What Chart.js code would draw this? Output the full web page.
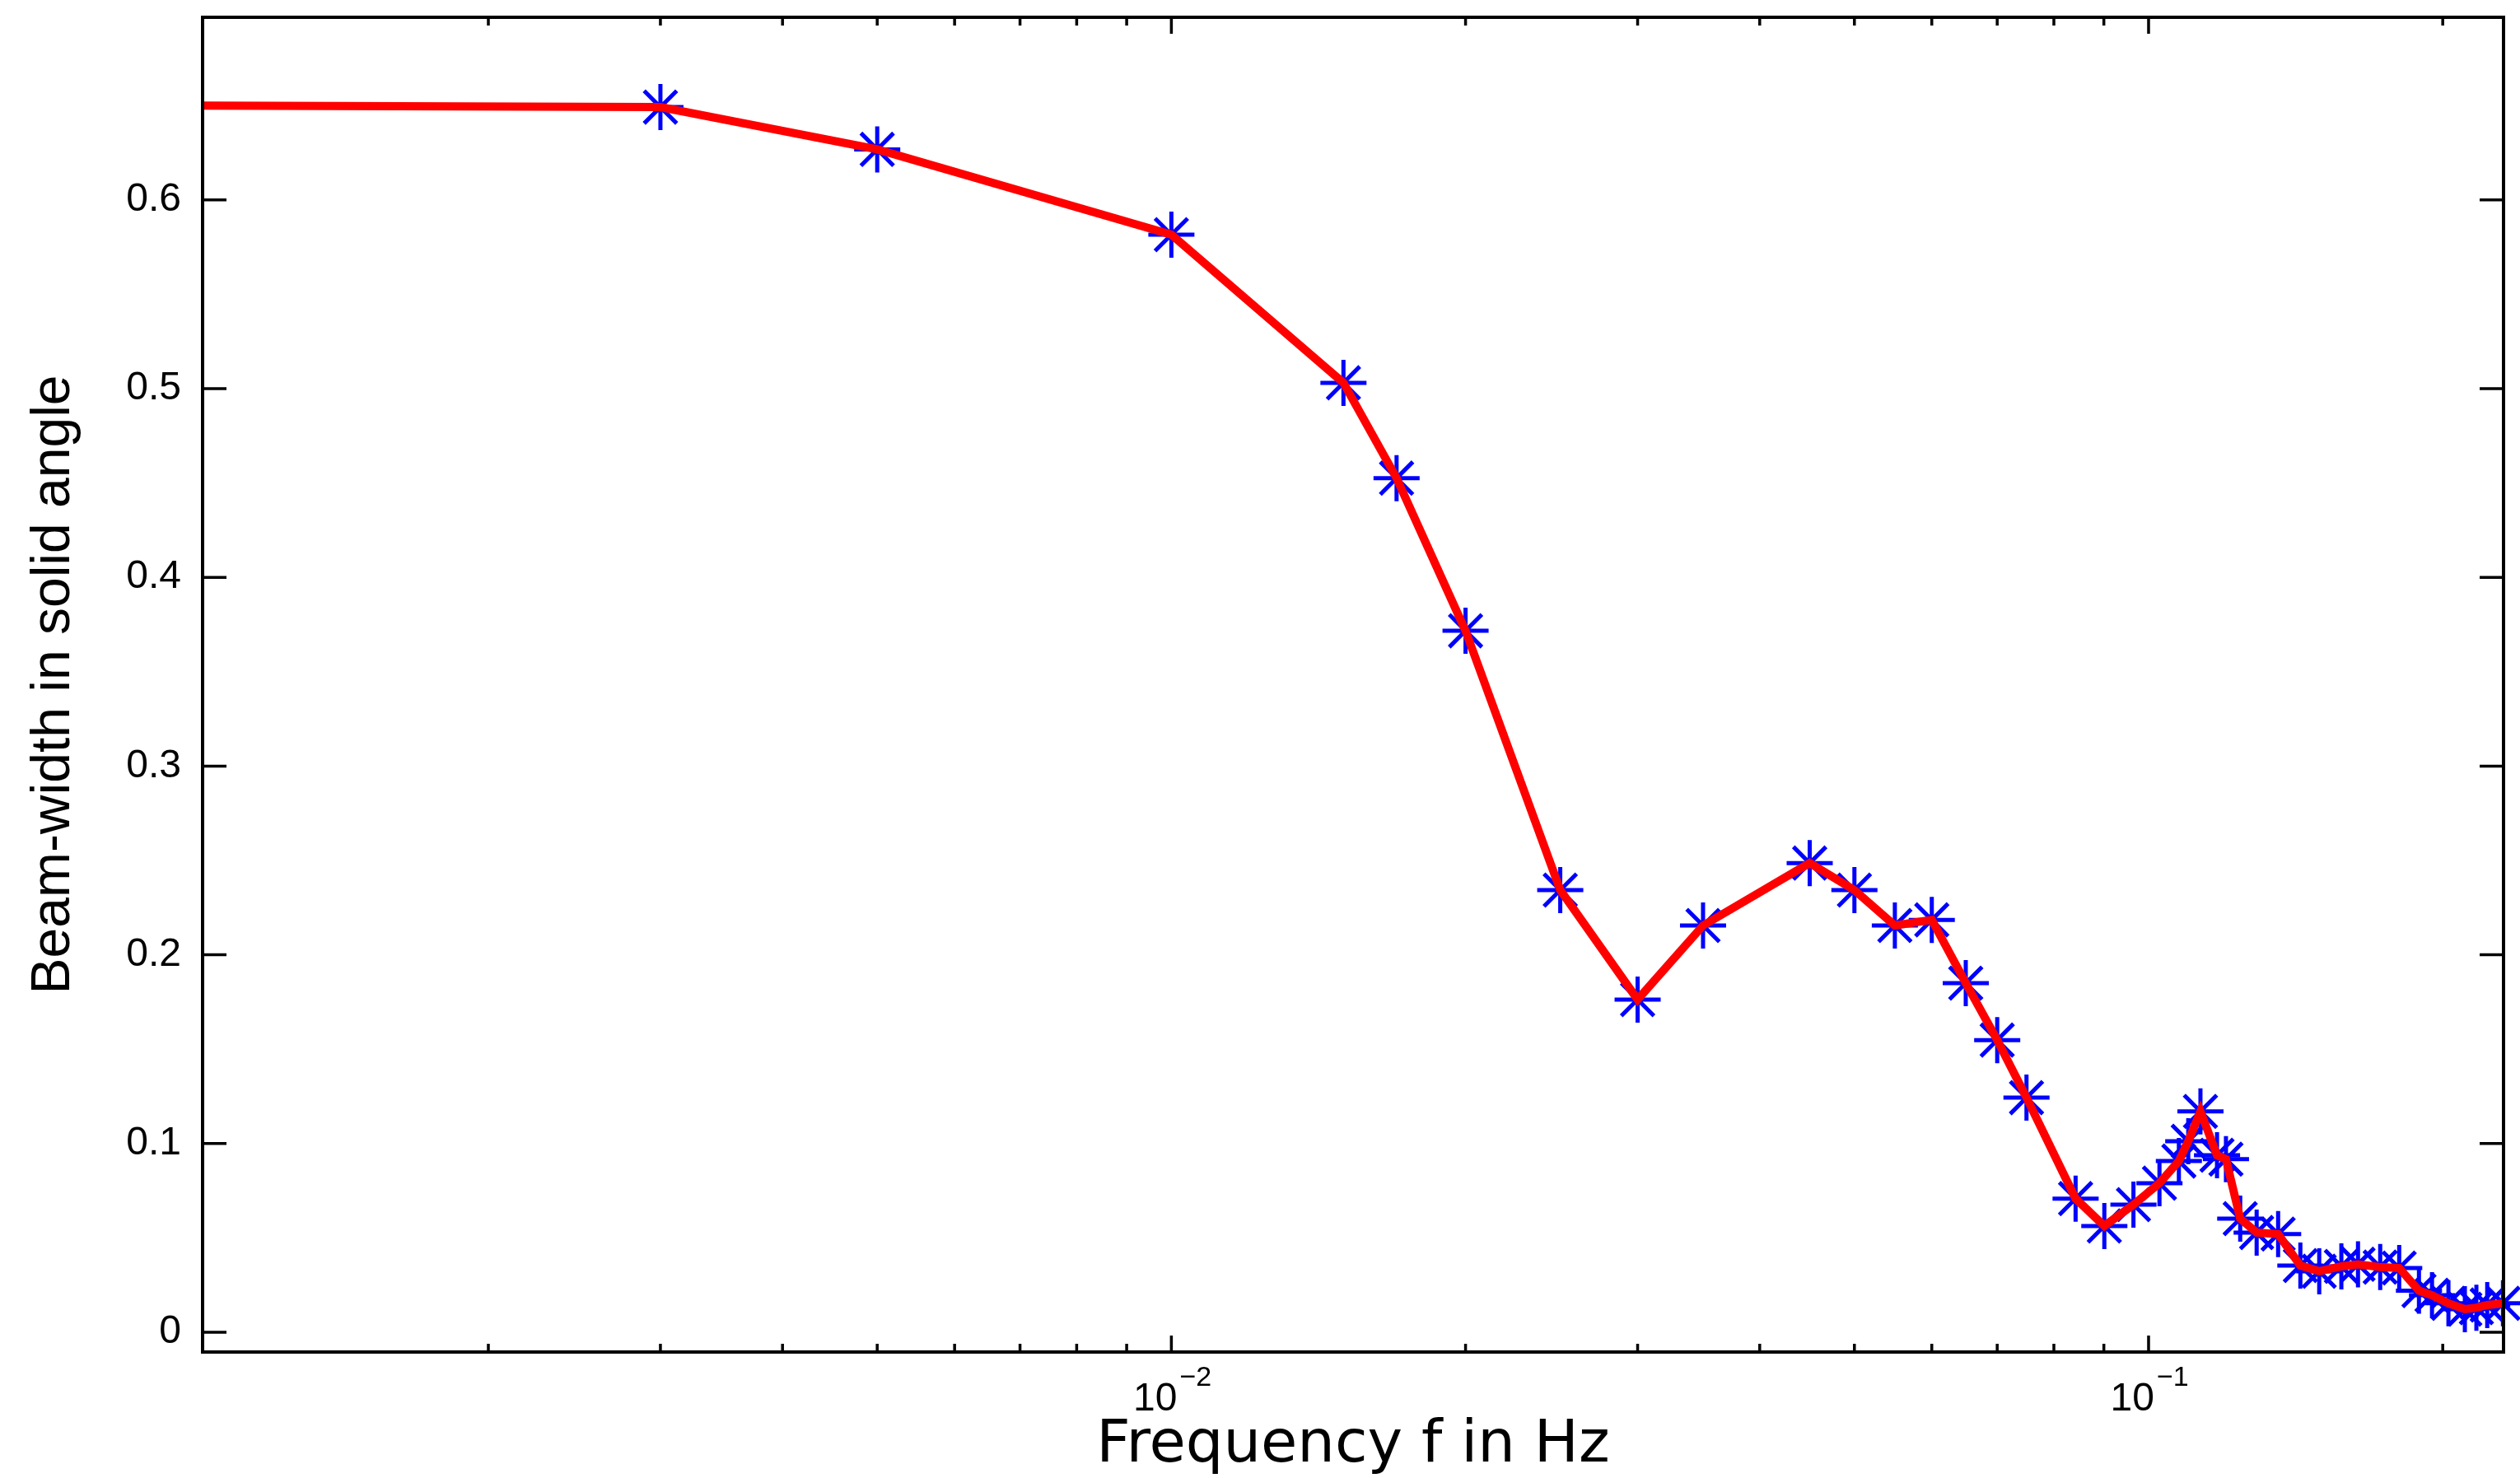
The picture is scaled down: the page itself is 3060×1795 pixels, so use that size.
<!DOCTYPE html>
<html>
<head>
<meta charset="utf-8">
<title>Beam-width vs frequency</title>
<script src="https://cdn.jsdelivr.net/npm/chart.js@4.4.1/dist/chart.umd.min.js"></script>
<style>
  html, body { margin: 0; padding: 0; background: #fff; }
  canvas { display: block; }
</style>
</head>
<body>
<canvas id="beamChart" width="3060" height="1795"></canvas>
<script>

  /*-------------------------------------------------------------------------------
    DATA
  -------------------------------------------------------------------------------*/

  const freqHz = [0.0005, 0.003, 0.005, 0.01, 0.015, 0.017, 0.02, 0.025, 0.03, 0.035,
                  0.045, 0.05, 0.055, 0.06, 0.065, 0.07, 0.075, 0.0842, 0.0901, 0.0965,
                  0.1026, 0.1074, 0.1098, 0.113, 0.1175, 0.12, 0.1241, 0.129, 0.1357, 0.143,
                  0.1495, 0.1575, 0.1638, 0.1726, 0.1805, 0.1891, 0.195, 0.2027, 0.2107, 0.2165,
                  0.2221, 0.2305];

  const beamWidth = [0.6505, 0.6492, 0.6268, 0.5816, 0.5031, 0.4526, 0.3717, 0.2343, 0.1763, 0.2155,
                     0.2486, 0.2343, 0.2155, 0.2185, 0.1850, 0.1548, 0.1243, 0.0708, 0.0563, 0.0676,
                     0.0790, 0.0907, 0.1012, 0.1170, 0.0938, 0.0917, 0.0602, 0.0528, 0.0520, 0.0353,
                     0.0323, 0.0349, 0.0360, 0.0345, 0.0340, 0.0220, 0.0196, 0.0153, 0.0122, 0.0130,
                     0.0144, 0.0153];

  const xMajorTicks = [0.01, 0.1];
  const xTickBase = ['10', '10'];
  const xTickExp = ['\u22122', '\u22121'];
  const xMinorTicks = [0.002, 0.003, 0.004, 0.005, 0.006, 0.007, 0.008, 0.009,
                       0.02, 0.03, 0.04, 0.05, 0.06, 0.07, 0.08, 0.09, 0.2];

  const yTicks = [0, 0.1, 0.2, 0.3, 0.4, 0.5, 0.6];
  const yTickLabels = ['0', '0.1', '0.2', '0.3', '0.4', '0.5', '0.6'];

  const FONT = '"Liberation Sans", Arial, Helvetica, sans-serif';


  /* Box + inward ticks, matlab style
  -----------------------------------------------*/

  const boxTicks = {
    id: 'boxTicks',
    afterDraw(chart) {
      const ctx = chart.ctx;
      const a = chart.chartArea;
      const x = chart.scales.x, y = chart.scales.y;

      ctx.save();
      ctx.strokeStyle = '#000';
      ctx.lineWidth = 3.5;
      ctx.beginPath();
      yTicks.forEach(function(v) {
        const py = y.getPixelForValue(v);
        ctx.moveTo(a.left, py);  ctx.lineTo(a.left + 29, py);
        ctx.moveTo(a.right, py); ctx.lineTo(a.right - 29, py);
      });
      xMajorTicks.forEach(function(v) {
        const px = x.getPixelForValue(v);
        ctx.moveTo(px, a.bottom); ctx.lineTo(px, a.bottom - 20);
        ctx.moveTo(px, a.top);    ctx.lineTo(px, a.top + 20);
      });
      xMinorTicks.forEach(function(v) {
        const px = x.getPixelForValue(v);
        ctx.moveTo(px, a.bottom); ctx.lineTo(px, a.bottom - 10);
        ctx.moveTo(px, a.top);    ctx.lineTo(px, a.top + 10);
      });
      ctx.stroke();
      ctx.lineWidth = 4;
      ctx.strokeRect(a.left, a.top, a.right - a.left, a.bottom - a.top);

      // 10^-n labels with a real raised exponent
      ctx.fillStyle = '#000';
      ctx.textBaseline = 'alphabetic';
      xMajorTicks.forEach(function(v, i) {
        const px = x.getPixelForValue(v);
        ctx.font = '48px ' + FONT;
        ctx.textAlign = 'right';
        ctx.fillText(xTickBase[i], px + 7, a.bottom + 71);
        ctx.font = '34px ' + FONT;
        ctx.textAlign = 'left';
        ctx.fillText(xTickExp[i], px + 10, a.bottom + 41);
      });
      ctx.restore();
    }
  };


  /* Chart
  -----------------------------------------------*/

  Chart.defaults.font.family = FONT;
  Chart.defaults.color = '#000';

  const points = freqHz.map(function(f, i) { return {x: f, y: beamWidth[i]}; });

  let ctx = document.getElementById('beamChart').getContext('2d');
  let beamChart = new Chart(ctx, {
    type: 'line',
    data: {
      datasets: [{
        // red curve, listed first so it sits on top of the stars
        data: points,
        borderColor: '#ff0000',
        borderWidth: 10,
        pointRadius: 0,
        tension: 0,
        fill: false,
        clip: 0
      }, {
        data: points,
        showLine: false,
        pointStyle: 'star',
        pointRadius: 28,
        pointBorderWidth: 5,
        pointBorderColor: '#0000ff',
        pointBackgroundColor: 'rgba(0,0,0,0)',
        clip: false
      }]
    },
    options: {
      responsive: false,
      devicePixelRatio: 1,
      animation: false,
      layout: { autoPadding: false, padding: { top: 21, right: 20, bottom: 0, left: 0 } },
      plugins: {
        legend: { display: false },
        tooltip: { enabled: false }
      },
      scales: {
        x: {
          type: 'logarithmic',
          min: 0.00102,
          max: 0.2308,
          afterBuildTicks: function(s) { s.ticks = xMajorTicks.map(function(v) { return {value: v}; }); },
          afterFit: function(s) { s.height = 153; s.paddingLeft = 0; s.paddingRight = 0; },
          grid: { display: false, drawTicks: false },
          border: { display: false },
          ticks: { display: false },
          title: {
            display: true,
            text: 'Frequency f in Hz',
            font: { family: '"DejaVu Sans", "Liberation Sans", sans-serif', size: 72, lineHeight: 1 },
            padding: { top: 0, bottom: 3 }
          }
        },
        y: {
          type: 'linear',
          min: -0.0105,
          max: 0.6968,
          afterBuildTicks: function(s) { s.ticks = yTicks.map(function(v) { return {value: v}; }); },
          afterFit: function(s) { s.width = 246; s.paddingTop = 0; s.paddingBottom = 0; },
          grid: { display: false, drawTicks: false },
          border: { display: false },
          ticks: {
            padding: 26,
            font: { size: 48 },
            callback: function(v, i) { return yTickLabels[i]; }
          },
          title: {
            display: true,
            text: 'Beam-width in solid angle',
            font: { size: 66, lineHeight: 1 },
            padding: { top: 33, bottom: 0 }
          }
        }
      }
    },
    plugins: [boxTicks]
  });

</script>
</body>
</html>
